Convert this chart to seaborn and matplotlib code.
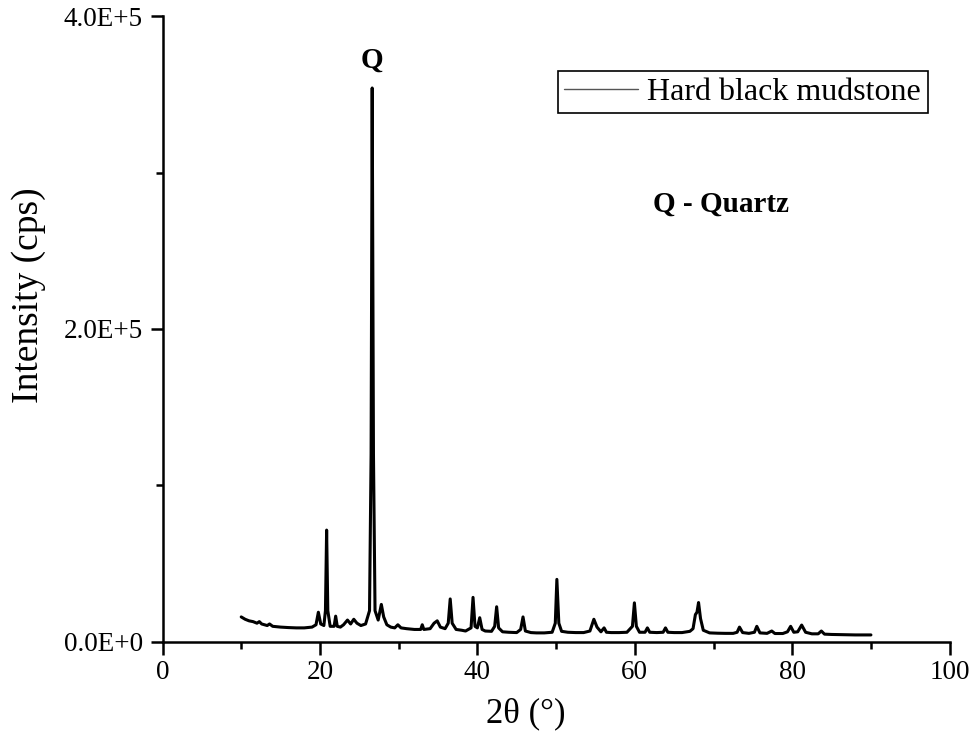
import matplotlib
matplotlib.use("Agg")
import matplotlib.pyplot as plt
from matplotlib.ticker import MultipleLocator, FixedLocator
import seaborn as sns
import pandas as pd

two_theta = [10.0, 10.5, 11.0, 11.5, 12.0, 12.3, 12.6, 13.3, 13.6, 14.0, 15.0, 16.0, 17.0, 18.0,
             19.0, 19.5, 19.8, 20.1, 20.5, 20.7, 20.85, 21.0, 21.3, 21.8, 22.0, 22.2, 22.6, 23.0,
             23.5, 23.9, 24.3, 24.7, 25.2, 25.8, 26.3, 26.5, 26.64, 26.8, 27.0, 27.4, 27.8, 28.1,
             28.5, 29.0, 29.5, 29.9, 30.3, 31.0, 32.0, 32.8, 33.0, 33.2, 34.0, 34.5, 34.9, 35.3,
             35.9, 36.3, 36.55, 36.8, 37.3, 38.0, 38.5, 39.2, 39.45, 39.7, 40.0, 40.3, 40.6, 41.0,
             41.8, 42.2, 42.45, 42.7, 43.2, 44.0, 45.0, 45.5, 45.8, 46.1, 46.8, 47.5, 48.5, 49.5,
             49.9, 50.1, 50.35, 50.7, 51.5, 52.5, 53.5, 54.3, 54.8, 55.2, 55.7, 56.1, 56.4, 57.0,
             58.0, 59.0, 59.7, 59.95, 60.2, 60.6, 61.3, 61.6, 61.9, 62.8, 63.6, 63.9, 64.2, 65.0,
             66.0, 67.0, 67.4, 67.7, 67.9, 68.1, 68.35, 68.7, 69.5, 70.5, 71.5, 72.5, 73.0, 73.3,
             73.7, 74.5, 75.2, 75.5, 75.9, 76.8, 77.4, 77.8, 78.8, 79.4, 79.8, 80.2, 80.7, 81.2,
             81.7, 82.5, 83.3, 83.7, 84.1, 85.0, 86.0, 87.0, 88.0, 89.0, 90.0]
intensity_k = [16.0, 14.5, 13.5, 13.0, 12.0, 13.0, 11.5, 10.5, 11.5, 10.0, 9.5, 9.2, 9.0, 9.0,
               9.5, 11.0, 19.0, 11.5, 10.5, 20.0, 71.5, 20.0, 10.0, 10.0, 16.5, 10.0, 9.5, 11.0,
               14.0, 11.5, 14.5, 12.0, 10.5, 11.5, 20.0, 120.0, 354.0, 120.0, 20.0, 14.0, 24.0, 16.0,
               11.0, 9.5, 9.0, 11.0, 9.0, 8.5, 8.0, 8.0, 11.0, 8.0, 8.5, 12.0, 13.5, 9.5,
               8.5, 12.0, 27.5, 12.0, 8.0, 7.5, 7.0, 9.0, 28.5, 10.0, 9.0, 15.5, 8.0, 7.0,
               6.8, 10.0, 22.5, 9.0, 6.5, 6.2, 6.0, 8.0, 16.0, 7.0, 6.0, 5.8, 5.8, 6.2,
               12.0, 40.0, 12.0, 6.8, 6.2, 6.0, 6.0, 7.0, 14.5, 9.5, 6.5, 9.0, 6.2, 6.0,
               6.0, 6.2, 10.0, 25.0, 10.0, 6.2, 6.2, 9.0, 6.2, 6.0, 6.2, 9.0, 6.2, 6.0,
               6.0, 6.8, 8.5, 17.5, 19.0, 25.2, 15.0, 7.5, 5.8, 5.6, 5.5, 5.5, 6.2, 9.5,
               6.0, 5.5, 6.2, 10.0, 5.8, 5.5, 7.0, 5.4, 5.4, 6.5, 10.0, 6.2, 6.5, 10.8,
               6.2, 5.2, 5.2, 7.0, 5.0, 4.8, 4.7, 4.6, 4.5, 4.5, 4.5]

series_label = "Hard black mudstone"
x_ticks = [0, 20, 40, 60, 80, 100]
y_ticks = [0, 200000, 400000]
y_tick_labels = ["0.0E+0", "2.0E+5", "4.0E+5"]

df = pd.DataFrame({"two_theta": two_theta,
                   "intensity": [v * 1000 for v in intensity_k]})

sns.set_style("ticks")
plt.rcParams["font.family"] = ["Liberation Serif", "DejaVu Serif"]
plt.rcParams["text.color"] = "black"
plt.rcParams["axes.labelcolor"] = "black"
plt.rcParams["xtick.color"] = "black"
plt.rcParams["ytick.color"] = "black"
plt.rcParams["axes.edgecolor"] = "black"

fig = plt.figure(figsize=(9.76, 7.49), dpi=100)
ax = fig.add_axes([0.1665, 0.1429, 0.8065, 0.8357])

sns.lineplot(data=df, x="two_theta", y="intensity", ax=ax, color="black",
             linewidth=2.2, label=series_label, estimator=None, sort=False)

ax.set_xlim(0, 100)
ax.set_ylim(0, 400000)
ax.xaxis.set_major_locator(FixedLocator(x_ticks))
ax.xaxis.set_minor_locator(MultipleLocator(10))
ax.yaxis.set_major_locator(FixedLocator(y_ticks))
ax.yaxis.set_minor_locator(MultipleLocator(100000))
ax.set_yticklabels(y_tick_labels)

for side in ["top", "right"]:
    ax.spines[side].set_visible(False)
for side in ["left", "bottom"]:
    ax.spines[side].set_linewidth(1.8)
    ax.spines[side].set_color("black")

ax.tick_params(axis="both", which="major", length=9, width=1.8, labelsize=19.5,
               direction="out", colors="black")
ax.tick_params(axis="both", which="minor", length=5, width=1.8, direction="out", colors="black")
ax.tick_params(axis="y", which="major", pad=5)
ax.tick_params(axis="x", which="major", pad=4)

ax.set_xlabel("2θ (°)", fontsize=25, color="black")
ax.set_ylabel("Intensity (cps)", fontsize=27, color="black")
ax.xaxis.set_label_coords(0.4616, -0.088)
ax.yaxis.set_label_coords(-0.148, 0.554)

ax.text(26.6, 372000, "Q", fontsize=21, fontweight="bold", ha="center", va="center",
        color="black")
ax.text(71.0, 280000, "Q - Quartz", fontsize=21, fontweight="bold", ha="center", va="center",
        color="black")

leg = ax.legend(loc="upper right", bbox_to_anchor=(0.972, 0.912), fontsize=23,
                frameon=True, fancybox=False, edgecolor="black", framealpha=1,
                handlelength=2.3, handletextpad=0.3, borderpad=0.2, borderaxespad=0)
leg.get_frame().set_linewidth(1.2)
for t in leg.get_texts():
    t.set_color("black")
for h in leg.get_lines():
    h.set_linewidth(1.0)
    h.set_color("#555555")

fig.savefig("out.png", dpi=100)
